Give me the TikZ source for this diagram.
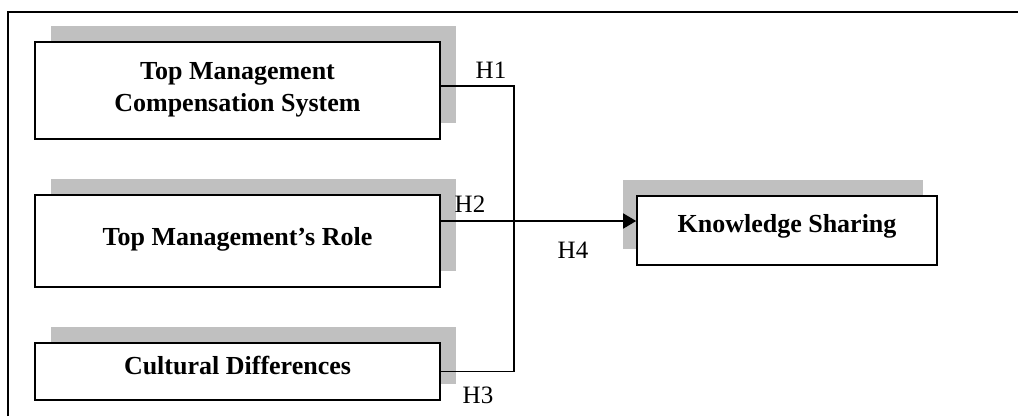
\documentclass[tikz,border=0pt]{standalone}
\usepackage{fontspec}
\setmainfont{Liberation Serif}
\usetikzlibrary{arrows.meta,shadows}
\definecolor{shgray}{RGB}{192,192,192}
\begin{document}
\begin{tikzpicture}[x=1pt,y=-1pt,
  box/.style={draw=black,line width=1.6pt,fill=white,inner sep=0pt,
    minimum width=#1},
  shR/.style={drop shadow={shadow xshift=16pt,shadow yshift=16pt,fill=shgray,opacity=1}},
  shL/.style={drop shadow={shadow xshift=-14pt,shadow yshift=16pt,fill=shgray,opacity=1}},
  btext/.style={anchor=north,inner sep=0pt,font=\fontsize{26}{32}\selectfont\bfseries,align=center},
  hlab/.style={anchor=north,inner sep=0pt,font=\fontsize{25}{28}\selectfont},
  conn/.style={line width=1.6pt,draw=black}]
\useasboundingbox (0,0) rectangle (1018,416);
% frame
\draw[line width=2pt] (8,416) -- (8,12) -- (1018,12);
% boxes
\node[box=405pt,minimum height=97pt,shR] (b1) at (237.5,90.5) {};
\node[box=405pt,minimum height=92pt,shR] (b2) at (237.5,241) {};
\node[box=405pt,minimum height=57pt,shR] (b3) at (237.5,371.5) {};
\node[box=300pt,minimum height=69pt,shL] (ks) at (787,230.5) {};
% box texts
\node[btext] (t1) at (237.5,62) {Top Management\\Compensation System};
\node[btext] (t2) at (237.5,227) {Top Management’s Role};
\node[btext] (t3) at (237.5,356) {Cultural Differences};
\node[btext] (t4) at (787,214) {Knowledge Sharing};
% connectors
\coordinate (j) at (514,221);
\draw[conn] ([yshift=4.5pt]b1.east) -| (j);
\draw[conn] (b3.east) -| (j);
\draw[conn,-{Triangle[length=13pt,width=15pt]}] ([yshift=20pt]b2.east) -- (j) -- (j -| ks.west);
% labels
\node[hlab] (h1) at (491,62) {H1};
\node[hlab] (h2) at (470,196) {H2};
\node[hlab] (h3) at (478,387) {H3};
\node[hlab] (h4) at (573,242) {H4};
\end{tikzpicture}
\end{document}
